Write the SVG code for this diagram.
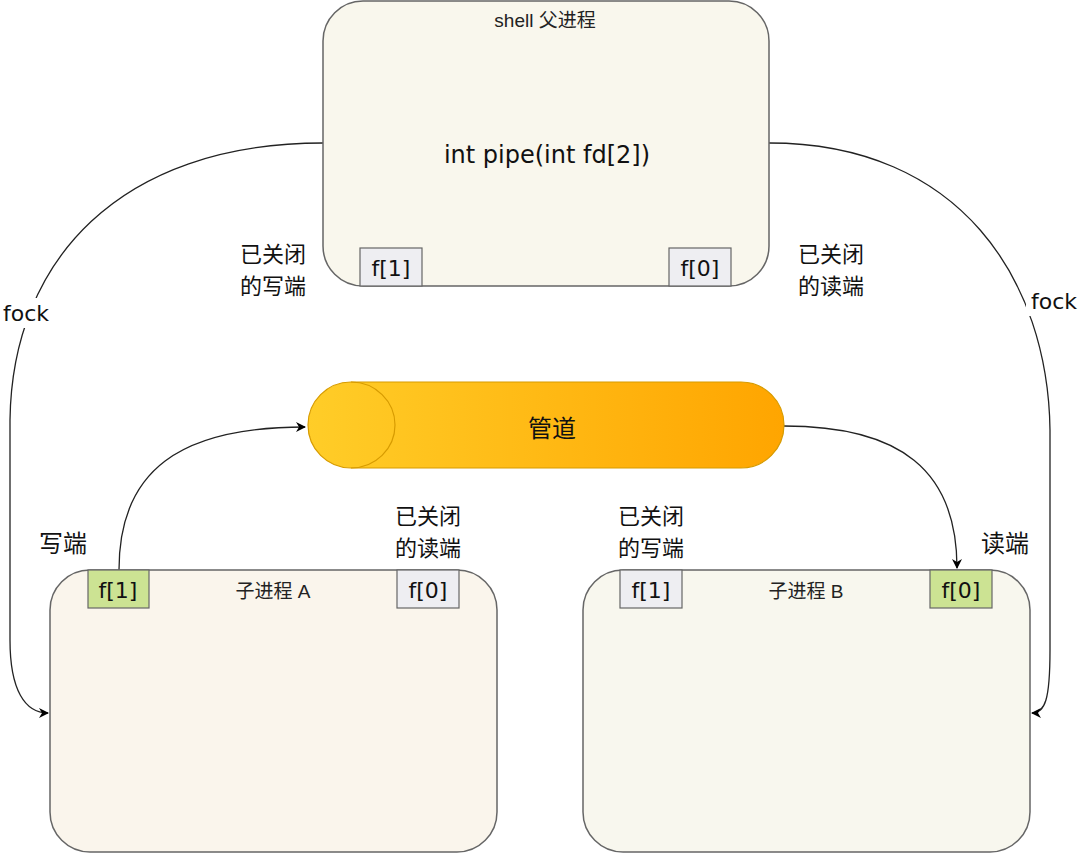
<svg xmlns="http://www.w3.org/2000/svg" width="1080" height="857" viewBox="0 0 1080 857">
<style>
.box{stroke:#666;stroke-width:1.5}
.fd{stroke:#666;stroke-width:1.2}
.gray{fill:#eeeef2}
.green{fill:#cce393}
.t{font-family:"Liberation Sans","Noto Sans CJK SC",sans-serif;fill:#222}
.c{font-family:"DejaVu Sans","Noto Sans CJK SC",sans-serif;fill:#111}
.lbl{font-family:"Noto Sans CJK SC","Liberation Sans",sans-serif;font-size:24px;fill:#111}
.lbl2{font-family:"Noto Sans CJK SC","Liberation Sans",sans-serif;font-size:22px;fill:#111}
.edge{fill:none;stroke:#222;stroke-width:1.3}
</style>
<defs>
<marker id="arr" viewBox="0 0 10 10" refX="9" refY="5" markerWidth="10" markerHeight="10" markerUnits="userSpaceOnUse" orient="auto">
<path d="M0,0 L10,5 L0,10 L3,5 Z" fill="#000"/>
</marker>
<linearGradient id="pg" x1="0" y1="0" x2="1" y2="0">
<stop offset="0" stop-color="#ffcd28"/>
<stop offset="1" stop-color="#ffa500"/>
</linearGradient>
</defs>
<rect width="1080" height="857" fill="#fff"/>

<g id="connectors">
<path class="edge" d="M323,143 C120,143 12,260 10,420 L10,640 C10,690 25,713 48,713" marker-end="url(#arr)"/>
<path class="edge" d="M769,143 C960,143 1048,280 1050,430 L1050,650 C1050,700 1045,713 1032,713" marker-end="url(#arr)"/>
<path class="edge" d="M119,570 C119,470 180,427 305,427" marker-end="url(#arr)"/>
<path class="edge" d="M784,426 C900,426 957,470 957,568" marker-end="url(#arr)"/>
<rect x="0" y="298" width="54" height="30" fill="#fff"/>
<text class="c" x="26" y="321" font-size="22" text-anchor="middle">fock</text>
<rect x="1026" y="286" width="54" height="30" fill="#fff"/>
<text class="c" x="1054" y="309" font-size="22" text-anchor="middle">fock</text>
</g>

<g id="parent">
<rect class="box" x="323" y="1" width="446" height="285" rx="40" fill="#f9f7ed"/>
<text class="t" x="545" y="27" font-size="19" text-anchor="middle">shell 父进程</text>
<text class="c" x="547" y="163" font-size="24" text-anchor="middle">int pipe(int fd[2])</text>
</g>
<g id="parent-f1">
<rect class="fd gray" x="360" y="248" width="62" height="38"/>
<text class="c" x="391" y="276" font-size="22" text-anchor="middle">f[1]</text>
</g>
<g id="parent-f0">
<rect class="fd gray" x="669" y="248" width="62" height="38"/>
<text class="c" x="700" y="276" font-size="22" text-anchor="middle">f[0]</text>
</g>

<g id="pipe">
<rect x="308" y="382" width="476" height="86" rx="43" fill="url(#pg)" stroke="#d79b00" stroke-width="1.2"/>
<path d="M351,382 A44,43 0 0 1 351,468" fill="none" stroke="#d79b00" stroke-width="1.2"/>
<text class="lbl" x="552" y="437" text-anchor="middle">管道</text>
</g>

<g id="childA">
<rect class="box" x="50" y="570" width="447" height="282" rx="40" fill="#faf5ec"/>
<text class="t" x="273" y="598" font-size="19" text-anchor="middle">子进程 A</text>
</g>
<g id="childA-f1">
<rect class="fd green" x="88" y="570" width="61" height="38"/>
<text class="c" x="118" y="598" font-size="22" text-anchor="middle">f[1]</text>
</g>
<g id="childA-f0">
<rect class="fd gray" x="397" y="570" width="62" height="38"/>
<text class="c" x="428" y="598" font-size="22" text-anchor="middle">f[0]</text>
</g>

<g id="childB">
<rect class="box" x="583" y="570" width="447" height="282" rx="40" fill="#f8f7ee"/>
<text class="t" x="806" y="598" font-size="19" text-anchor="middle">子进程 B</text>
</g>
<g id="childB-f1">
<rect class="fd gray" x="620" y="570" width="62" height="38"/>
<text class="c" x="651" y="598" font-size="22" text-anchor="middle">f[1]</text>
</g>
<g id="childB-f0">
<rect class="fd green" x="930" y="570" width="62" height="38"/>
<text class="c" x="961" y="598" font-size="22" text-anchor="middle">f[0]</text>
</g>

<g id="labels">
<text class="lbl2" text-anchor="middle"><tspan x="273" y="262">已关闭</tspan><tspan x="273" y="294">的写端</tspan></text>
<text class="lbl2" text-anchor="middle"><tspan x="831" y="262">已关闭</tspan><tspan x="831" y="294">的读端</tspan></text>
<text class="lbl" x="63" y="552" text-anchor="middle">写端</text>
<text class="lbl2" text-anchor="middle"><tspan x="428" y="524">已关闭</tspan><tspan x="428" y="556">的读端</tspan></text>
<text class="lbl2" text-anchor="middle"><tspan x="651" y="524">已关闭</tspan><tspan x="651" y="556">的写端</tspan></text>
<text class="lbl" x="1005" y="552" text-anchor="middle">读端</text>
</g>
</svg>
